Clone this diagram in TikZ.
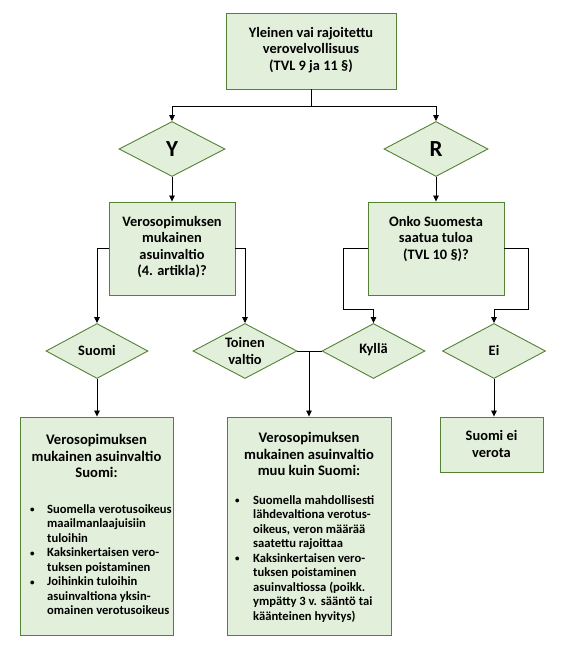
\documentclass[tikz,border=0pt]{standalone}
\usepackage{fontspec}
\setmainfont{Carlito}
\usetikzlibrary{shapes.geometric,arrows.meta,calc}
\definecolor{boxfill}{HTML}{E2EFDA}
\definecolor{boxdraw}{HTML}{548235}
\newcommand{\bul}{{\fontsize{9}{9}\selectfont\raisebox{0.5pt}{•}}}
\begin{document}
\begin{tikzpicture}[x=1pt,y=-1pt,
  box/.style={draw=boxdraw,fill=boxfill,line width=0.9pt,inner sep=0,rectangle},
  dia/.style={draw=boxdraw,fill=boxfill,line width=0.9pt,diamond,inner sep=0,minimum height=55pt},
  txt/.style={align=center,font=\fontsize{14.4}{16.6}\selectfont\bfseries,inner sep=0},
  head/.style={align=center,font=\fontsize{14.6}{16.6}\selectfont\bfseries,inner sep=0},
  big/.style={font=\fontsize{23}{23}\selectfont\bfseries,inner sep=0},
  lst/.style={align=left,font=\fontsize{12.6}{14.5}\selectfont\bfseries,inner sep=0,anchor=west},
  conn/.style={line width=0.8pt,black},
  arr/.style={conn,-{Triangle[width=5.5pt,length=6pt]}}
]
\useasboundingbox (0,0) rectangle (560,650);

% boxes
\node[box,minimum width=170pt,minimum height=76pt] (top) at (311,51) {};
\node[txt] (toptxt) at (311,50) {Yleinen vai rajoitettu\\verovelvollisuus\\(TVL 9 ja 11 §)};

\node[dia,minimum width=106pt] (Y) at (172,149) {};
\node[big] (Ytxt) at (172,149) {Y};
\node[dia,minimum width=104pt] (R) at (436,149) {};
\node[big] (Rtxt) at (436,149) {R};

\node[box,minimum width=126pt,minimum height=93pt] (vero) at (172,248.5) {};
\node[txt] (verotxt) at (172,247) {Verosopimuksen\\mukainen\\asuinvaltio\\(4. artikla)?};
\node[box,minimum width=136pt,minimum height=93pt] (onko) at (436,248.5) {};
\node[txt] (onkotxt) at (436,239) {Onko Suomesta\\saatua tuloa\\(TVL 10 §)?};

\node[dia,minimum width=102pt] (suomi) at (97,351) {};
\node[txt] (suomitxt) at (97,350) {Suomi};
\node[dia,minimum width=104pt] (toinen) at (245,351) {};
\node[txt] (toinentxt) at (245,351) {Toinen\\valtio};
\node[dia,minimum width=103pt] (kylla) at (373.5,351) {};
\node[txt] (kyllatxt) at (373.5,350) {Kyllä};
\node[dia,minimum width=103pt] (ei) at (494,351) {};
\node[txt] (eitxt) at (494,350) {Ei};

\node[box,minimum width=153pt,minimum height=218pt] (lbox) at (96.5,526) {};
\node[head] (lhead) at (96.5,456) {Verosopimuksen\\mukainen asuinvaltio\\Suomi:};
\node[lst] (llist) at (30,561) {\begin{tabular}{@{}p{17pt}@{}l@{}}
\bul & Suomella verotusoikeus\\
 & maailmanlaajuisiin\\
 & tuloihin\\
\bul & Kaksinkertaisen vero-\\
 & tuksen poistaminen\\
\bul & Joihinkin tuloihin\\
 & asuinvaltiona yksin-\\
 & omainen verotusoikeus
\end{tabular}};

\node[box,minimum width=164pt,minimum height=218pt] (mbox) at (309,526) {};
\node[head] (mhead) at (309,454) {Verosopimuksen\\mukainen asuinvaltio\\muu kuin Suomi:};
\node[lst] (mlist) at (235,559.5) {\begin{tabular}{@{}p{18pt}@{}l@{}}
\bul & Suomella mahdollisesti\\
 & lähdevaltiona verotus-\\
 & oikeus, veron määrää\\
 & saatettu rajoittaa\\
\bul & Kaksinkertaisen vero-\\
 & tuksen poistaminen\\
 & asuinvaltiossa (poikk.\\
 & ympätty 3 v. sääntö tai\\
 & käänteinen hyvitys)
\end{tabular}};

\node[box,minimum width=103pt,minimum height=55pt] (sev) at (491.5,444.5) {};
\node[txt] (sevtxt) at (491.5,444) {Suomi ei\\verota};

% connectors
\draw[arr] (top.south) -- ++(0,17) -| (Y.north);
\draw[arr] (top.south) -- ++(0,17) -| (R.north);
\draw[arr] (Y.south) -- (vero.north);
\draw[arr] (R.south) -- (onko.north);
\draw[arr] (vero.west) -| (suomi.north);
\draw[arr] (vero.east) -| (toinen.north);
\draw[arr] (onko.west) -- ++(-24,0) |- ($(kylla.north)+(0,-14)$) -- (kylla.north);
\draw[arr] (onko.east) -- ++(24,0) |- ($(ei.north)+(0,-14)$) -- (ei.north);
\draw[conn] (toinen.east) -- (kylla.west);
\draw[arr] (toinen.east -| mbox.north) -- (mbox.north);
\draw[arr] (suomi.south) -- (suomi.south |- lbox.north);
\draw[arr] (ei.south) -- (ei.south |- sev.north);
\end{tikzpicture}
\end{document}
